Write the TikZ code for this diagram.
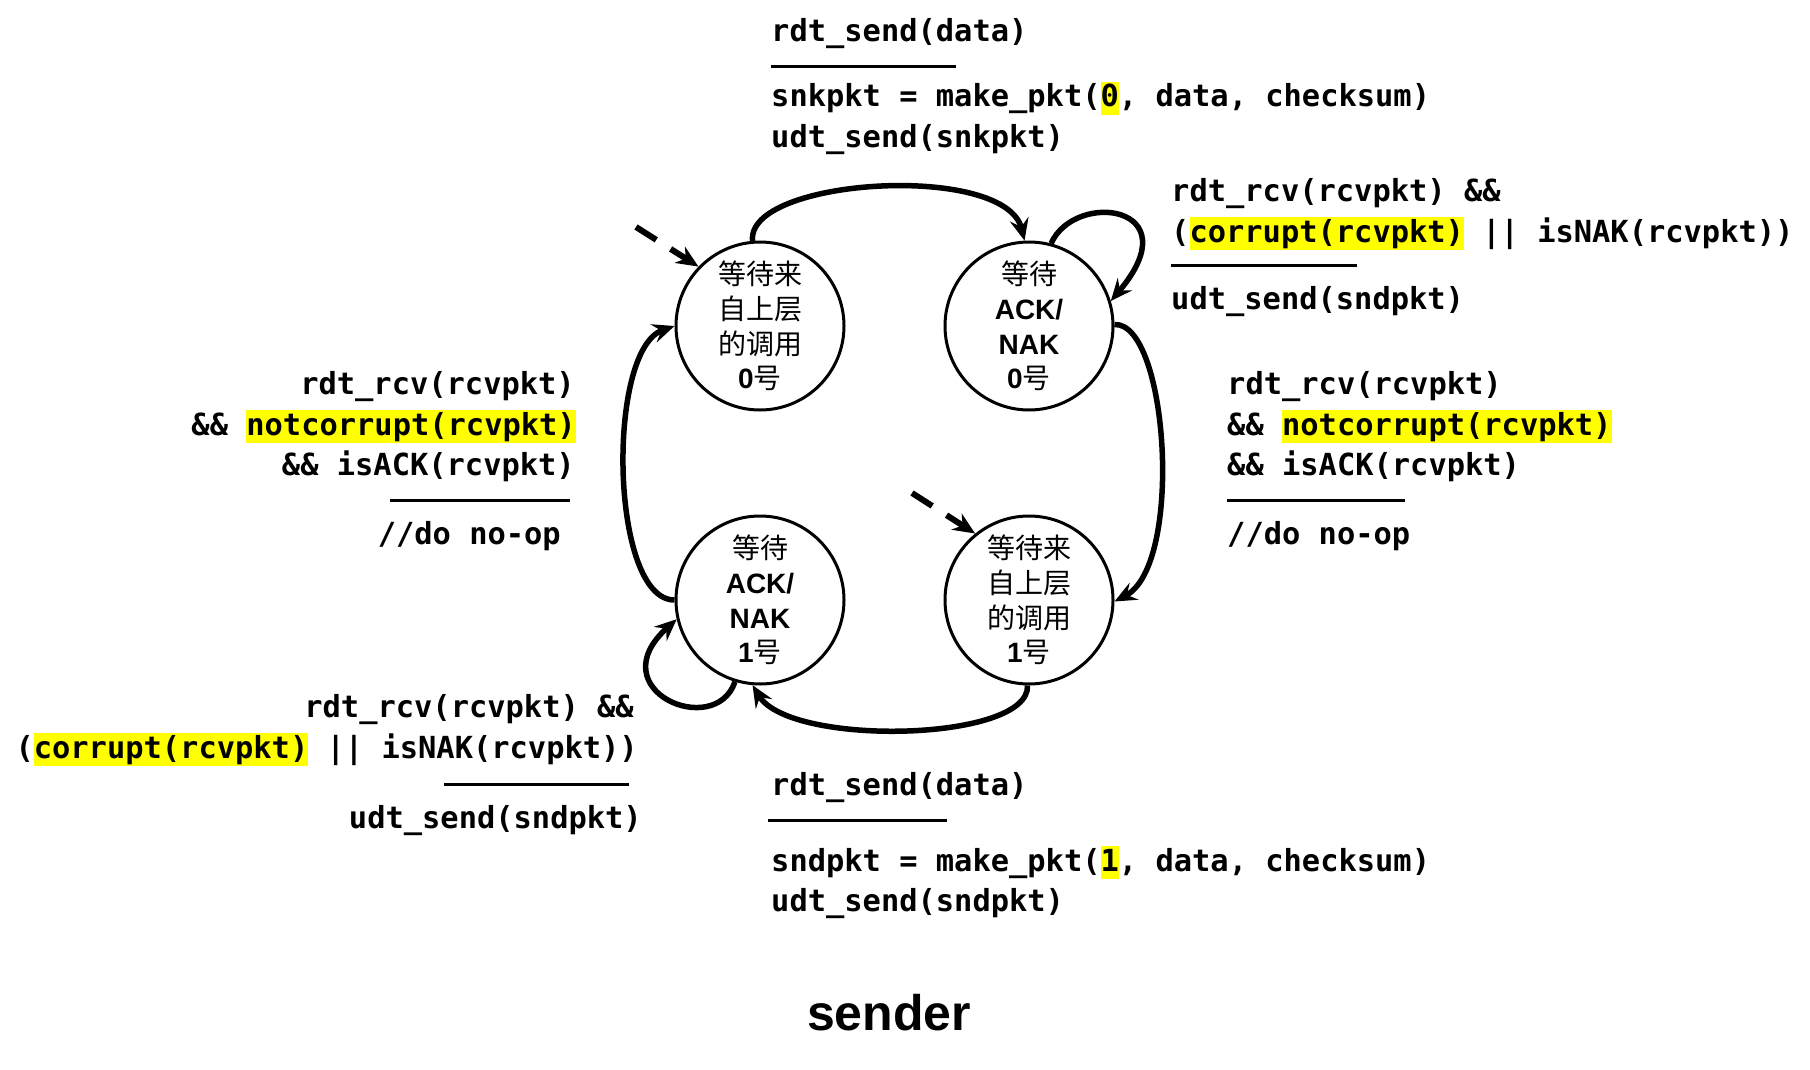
\documentclass[tikz,border=0pt]{standalone}
\usepackage{fontspec}
\setmonofont{DejaVu Sans Mono}
\newfontfamily\cjk{Noto Sans CJK SC}
\newfontfamily\lsans{Liberation Sans}
\usetikzlibrary{arrows.meta}
\definecolor{hlyellow}{RGB}{255,255,0}
\newcommand{\hlt}[1]{{\setlength{\fboxsep}{0pt}\colorbox{hlyellow}{\rule[-8pt]{0pt}{33pt}#1}}}
\newcommand{\lb}[1]{{\lsans\bfseries #1}}
\begin{document}
\begin{tikzpicture}[x=1pt,y=-1pt,
  state/.style={circle,draw,line width=3pt,minimum size=168pt,inner sep=0pt,align=center,
    font=\cjk\fontsize{28}{34.6}\selectfont},
  code/.style={inner sep=0pt,font=\ttfamily\bfseries\fontsize{30.4}{36}\selectfont},
  rulebar/.style={line width=3pt},
  arr/.style={line width=5.5pt,-{Stealth[length=22pt,width=19pt,inset=8pt]}},
  initarr/.style={line width=6pt,dash pattern=on 24pt off 17pt,-{Stealth[length=22pt,width=19pt,inset=7pt]}}
]
\path[use as bounding box,fill=white] (0,0) rectangle (1810,1070);

% states
\node[state] (s0) at (760,326) {等待来\\自上层\\的调用\\\lb{0}号};
\node[state] (s1) at (1029,326) {等待\\\lb{ACK/}\\\lb{NAK}\\\lb{0}号};
\node[state] (s2) at (760,600) {等待\\\lb{ACK/}\\\lb{NAK}\\\lb{1}号};
\node[state] (s3) at (1029,600) {等待来\\自上层\\的调用\\\lb{1}号};

% initial arrows
\coordinate (i0) at (636,227);
\coordinate (i1) at (912,493);
\draw[initarr] (i0) -- (s0.136);
\draw[initarr] (i1) -- (s3.129);

% transitions
\draw[arr] (s0.95) .. controls (746,178) and (1005,162) .. (s1.93);
\draw[arr] (s1.75) .. controls (1075,190) and (1192,205) .. (s1.17);
\draw[arr] (s1.1) .. controls (1168,322) and (1184,565) .. (s3.-1);
\draw[arr] (s3.-91) .. controls (1030,742) and (790,747) .. (s2.-95);
\draw[arr] (s2.180) .. controls (610,600) and (606,350) .. (s0.180);
\draw[arr] (s2.-107) .. controls (715,740) and (598,690) .. (s2.193);

% top label
\node[code,anchor=base west] (t1) at (771,42) {rdt\_send(data)};
\draw[rulebar] (771,67) -- (956,67);
\node[code,anchor=base west] (t2) at (771,107) {snkpkt = make\_pkt(\hlt{0}, data, checksum)};
\node[code,anchor=base west] (t3) at (771,147) {udt\_send(snkpkt)};

% top-right label
\node[code,anchor=base west] (r1) at (1171,201) {rdt\_rcv(rcvpkt) \&\&};
\node[code,anchor=base west] (r2) at (1171,242) {(\hlt{corrupt(rcvpkt)} || isNAK(rcvpkt))};
\draw[rulebar] (1171,265) -- (1357,265);
\node[code,anchor=base west] (r3) at (1171,309) {udt\_send(sndpkt)};

% right-middle label
\node[code,anchor=base west] (m1) at (1227,394) {rdt\_rcv(rcvpkt)};
\node[code,anchor=base west] (m2) at (1227,435) {\&\& \hlt{notcorrupt(rcvpkt)}};
\node[code,anchor=base west] (m3) at (1227,475) {\&\& isACK(rcvpkt)};
\draw[rulebar] (1227,500) -- (1405,500);
\node[code,anchor=base west] (m4) at (1227,544) {//do no-op};

% left-middle label
\node[code,anchor=base east] (l1) at (575,394) {rdt\_rcv(rcvpkt)};
\node[code,anchor=base east] (l2) at (576,435) {\&\& \hlt{notcorrupt(rcvpkt)}};
\node[code,anchor=base east] (l3) at (575,475) {\&\& isACK(rcvpkt)};
\draw[rulebar] (390,500) -- (570,500);
\node[code,anchor=base east] (l4) at (561,544) {//do no-op};

% bottom-left label
\node[code,anchor=base east] (b1) at (634,717) {rdt\_rcv(rcvpkt) \&\&};
\node[code,anchor=base east] (b2) at (638,758) {(\hlt{corrupt(rcvpkt)} || isNAK(rcvpkt))};
\draw[rulebar] (444,784) -- (629,784);
\node[code,anchor=base east] (b3) at (642,828) {udt\_send(sndpkt)};

% bottom label
\node[code,anchor=base west] (d1) at (771,795) {rdt\_send(data)};
\draw[rulebar] (768,820) -- (947,820);
\node[code,anchor=base west] (d2) at (771,871) {sndpkt = make\_pkt(\hlt{1}, data, checksum)};
\node[code,anchor=base west] (d3) at (771,911) {udt\_send(sndpkt)};

% title
\node[inner sep=0pt,anchor=base,font=\lsans\bfseries\fontsize{50}{60}\selectfont] (title) at (889,1030) {sender};
\end{tikzpicture}
\end{document}
